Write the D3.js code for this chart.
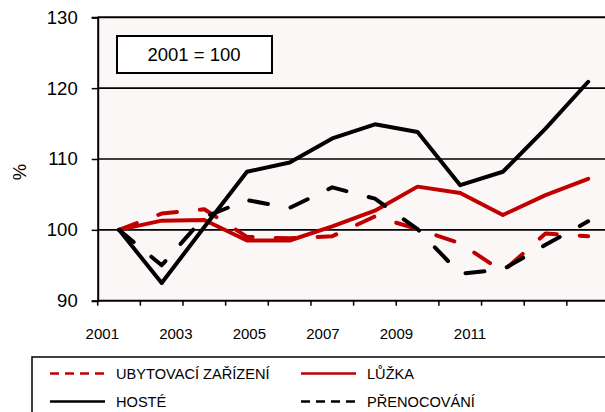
<!DOCTYPE html>
<html lang="cs">
<head>
<meta charset="UTF-8">
<script src="https://d3js.org/d3.v7.min.js"></script>
<style>
    body { margin: 0; background: #fff; }
    svg { display: block; font-family: "Liberation Sans", Arial, sans-serif; }
    .tick-label { font-size: 15px; fill: #000; }
    .y-label { font-size: 18.5px; fill: #000; }
    .legend text { font-size: 14.6px; fill: #000; }
</style>
</head>
<body>
<svg id="chart" width="605" height="412"></svg>
<script>
    // years on the category axis
    const years = [2001, 2002, 2003, 2004, 2005, 2006, 2007, 2008, 2009, 2010, 2011, 2012];
    const labelYears = [2001, 2003, 2005, 2007, 2009, 2011];
    const yTicks = [90, 100, 110, 120, 130];
    const gridValues = [100, 110, 120];

    // index values, 2001 = 100
    const ubytovaci = [100, 102.3, 102.9, 99.0, 98.8, 99.1, 101.9, 100.1, 98.1, 94.1, 99.5, 99.1];
    const luzka = [100, 101.3, 101.4, 98.5, 98.5, 100.5, 102.7, 106.1, 105.2, 102.1, 104.9, 107.2];
    const hoste = [100, 92.5, 100.4, 108.2, 109.5, 112.9, 114.9, 113.8, 106.3, 108.2, 114.3, 120.9];
    const prenocovani = [100, 95.0, 101.8, 104.2, 103.1, 106.0, 104.4, 100.1, 93.8, 94.4, 97.9, 101.2];

    const seriesNames = ["UBYTOVACÍ ZAŘÍZENÍ", "LŮŽKA", "HOSTÉ", "PŘENOCOVÁNÍ"];
    const seriesValues = [ubytovaci, luzka, hoste, prenocovani];
    const seriesColors = ["#c00000", "#c00000", "#000000", "#000000"];
    const seriesDashed = [true, false, false, true];

    const svg = d3.select("#chart");
    const plot = { left: 97.7, right: 609.5, top: 17.3, bottom: 300.7 };

    const x = d3.scaleBand().domain(years).range([plot.left, plot.right]);
    const y = d3.scaleLinear().domain([90, 130]).range([plot.bottom, plot.top]);
    // the year labels sit on their own spacing, narrower than the bands
    const xLabel = d3.scaleLinear().domain([2001, 2011]).range([102.3, 470]);

    // plot background
    svg.append("rect")
        .attr("x", plot.left).attr("y", plot.top)
        .attr("width", plot.right - plot.left).attr("height", plot.bottom - plot.top)
        .attr("fill", "#fcf7f7");

    // gridlines
    svg.append("g").selectAll("line").data(gridValues).enter().append("line")
        .attr("x1", plot.left).attr("x2", plot.right)
        .attr("y1", d => y(d)).attr("y2", d => y(d))
        .attr("stroke", "#000").attr("stroke-width", 1.6);

    // top border
    svg.append("line")
        .attr("x1", plot.left).attr("x2", plot.right)
        .attr("y1", plot.top).attr("y2", plot.top)
        .attr("stroke", "#000").attr("stroke-width", 2);

    // y axis
    const yAxis = svg.append("g")
        .attr("transform", "translate(" + plot.left + ",0)")
        .call(d3.axisLeft(y).tickValues(yTicks).tickSize(6).tickPadding(14));
    yAxis.select(".domain").attr("stroke-width", 2);
    yAxis.selectAll(".tick line").attr("stroke-width", 1.5);
    yAxis.selectAll("text").attr("class", "y-label").attr("font-size", null).attr("font-family", null);
    yAxis.attr("font-size", null).attr("font-family", null);

    // x axis: ticks on band edges
    const xAxis = svg.append("g")
        .attr("transform", "translate(0," + plot.bottom + ")");
    xAxis.append("line")
        .attr("x1", plot.left).attr("x2", plot.right)
        .attr("stroke", "#000").attr("stroke-width", 2);
    xAxis.selectAll(".xtick").data(years).enter().append("line")
        .attr("class", "xtick")
        .attr("x1", d => x(d)).attr("x2", d => x(d))
        .attr("y1", 0).attr("y2", 5)
        .attr("stroke", "#000").attr("stroke-width", 1.5);
    xAxis.selectAll(".xlab").data(labelYears).enter().append("text")
        .attr("class", "tick-label xlab")
        .attr("x", d => xLabel(d))
        .attr("y", 38)
        .attr("text-anchor", "middle")
        .text(d => d);

    // y axis title
    svg.append("text")
        .attr("class", "y-label")
        .attr("transform", "translate(26,172) rotate(-90)")
        .attr("text-anchor", "middle")
        .text("%");

    // lines
    const line = d3.line()
        .x((d, i) => x(years[i]) + x.bandwidth() / 2)
        .y(d => y(d));
    seriesValues.forEach((vals, k) => {
        svg.append("path")
            .datum(vals)
            .attr("d", line)
            .attr("fill", "none")
            .attr("stroke", seriesColors[k])
            .attr("stroke-width", 4)
            .attr("stroke-linejoin", "round")
            .attr("stroke-linecap", "round")
            .attr("stroke-dasharray", seriesDashed[k] ? "19,23" : null);
    });

    // base note box
    const note = svg.append("g");
    note.append("rect")
        .attr("x", 117).attr("y", 36).attr("width", 155).attr("height", 37)
        .attr("fill", "#fff").attr("stroke", "#000").attr("stroke-width", 2);
    note.append("text")
        .attr("class", "y-label")
        .attr("x", 194).attr("y", 61)
        .attr("text-anchor", "middle")
        .text("2001 = 100");

    // legend
    const legend = svg.append("g").attr("class", "legend");
    legend.append("rect")
        .attr("x", 32).attr("y", 357).attr("width", 600).attr("height", 80)
        .attr("fill", "#fff").attr("stroke", "#000").attr("stroke-width", 1.5);
    const legendPos = [[50, 373.5], [301, 373.5], [50, 401.5], [301, 401.5]];
    seriesNames.forEach((name, k) => {
        const g = legend.append("g")
            .attr("transform", "translate(" + legendPos[k][0] + "," + legendPos[k][1] + ")");
        g.append("line")
            .attr("x1", 0).attr("x2", 55)
            .attr("stroke", seriesColors[k])
            .attr("stroke-width", 2.5)
            .attr("stroke-dasharray", seriesDashed[k] ? "9,6" : null);
        g.append("text")
            .attr("x", 66).attr("y", 5.5)
            .text(name);
    });
</script>
</body>
</html>
